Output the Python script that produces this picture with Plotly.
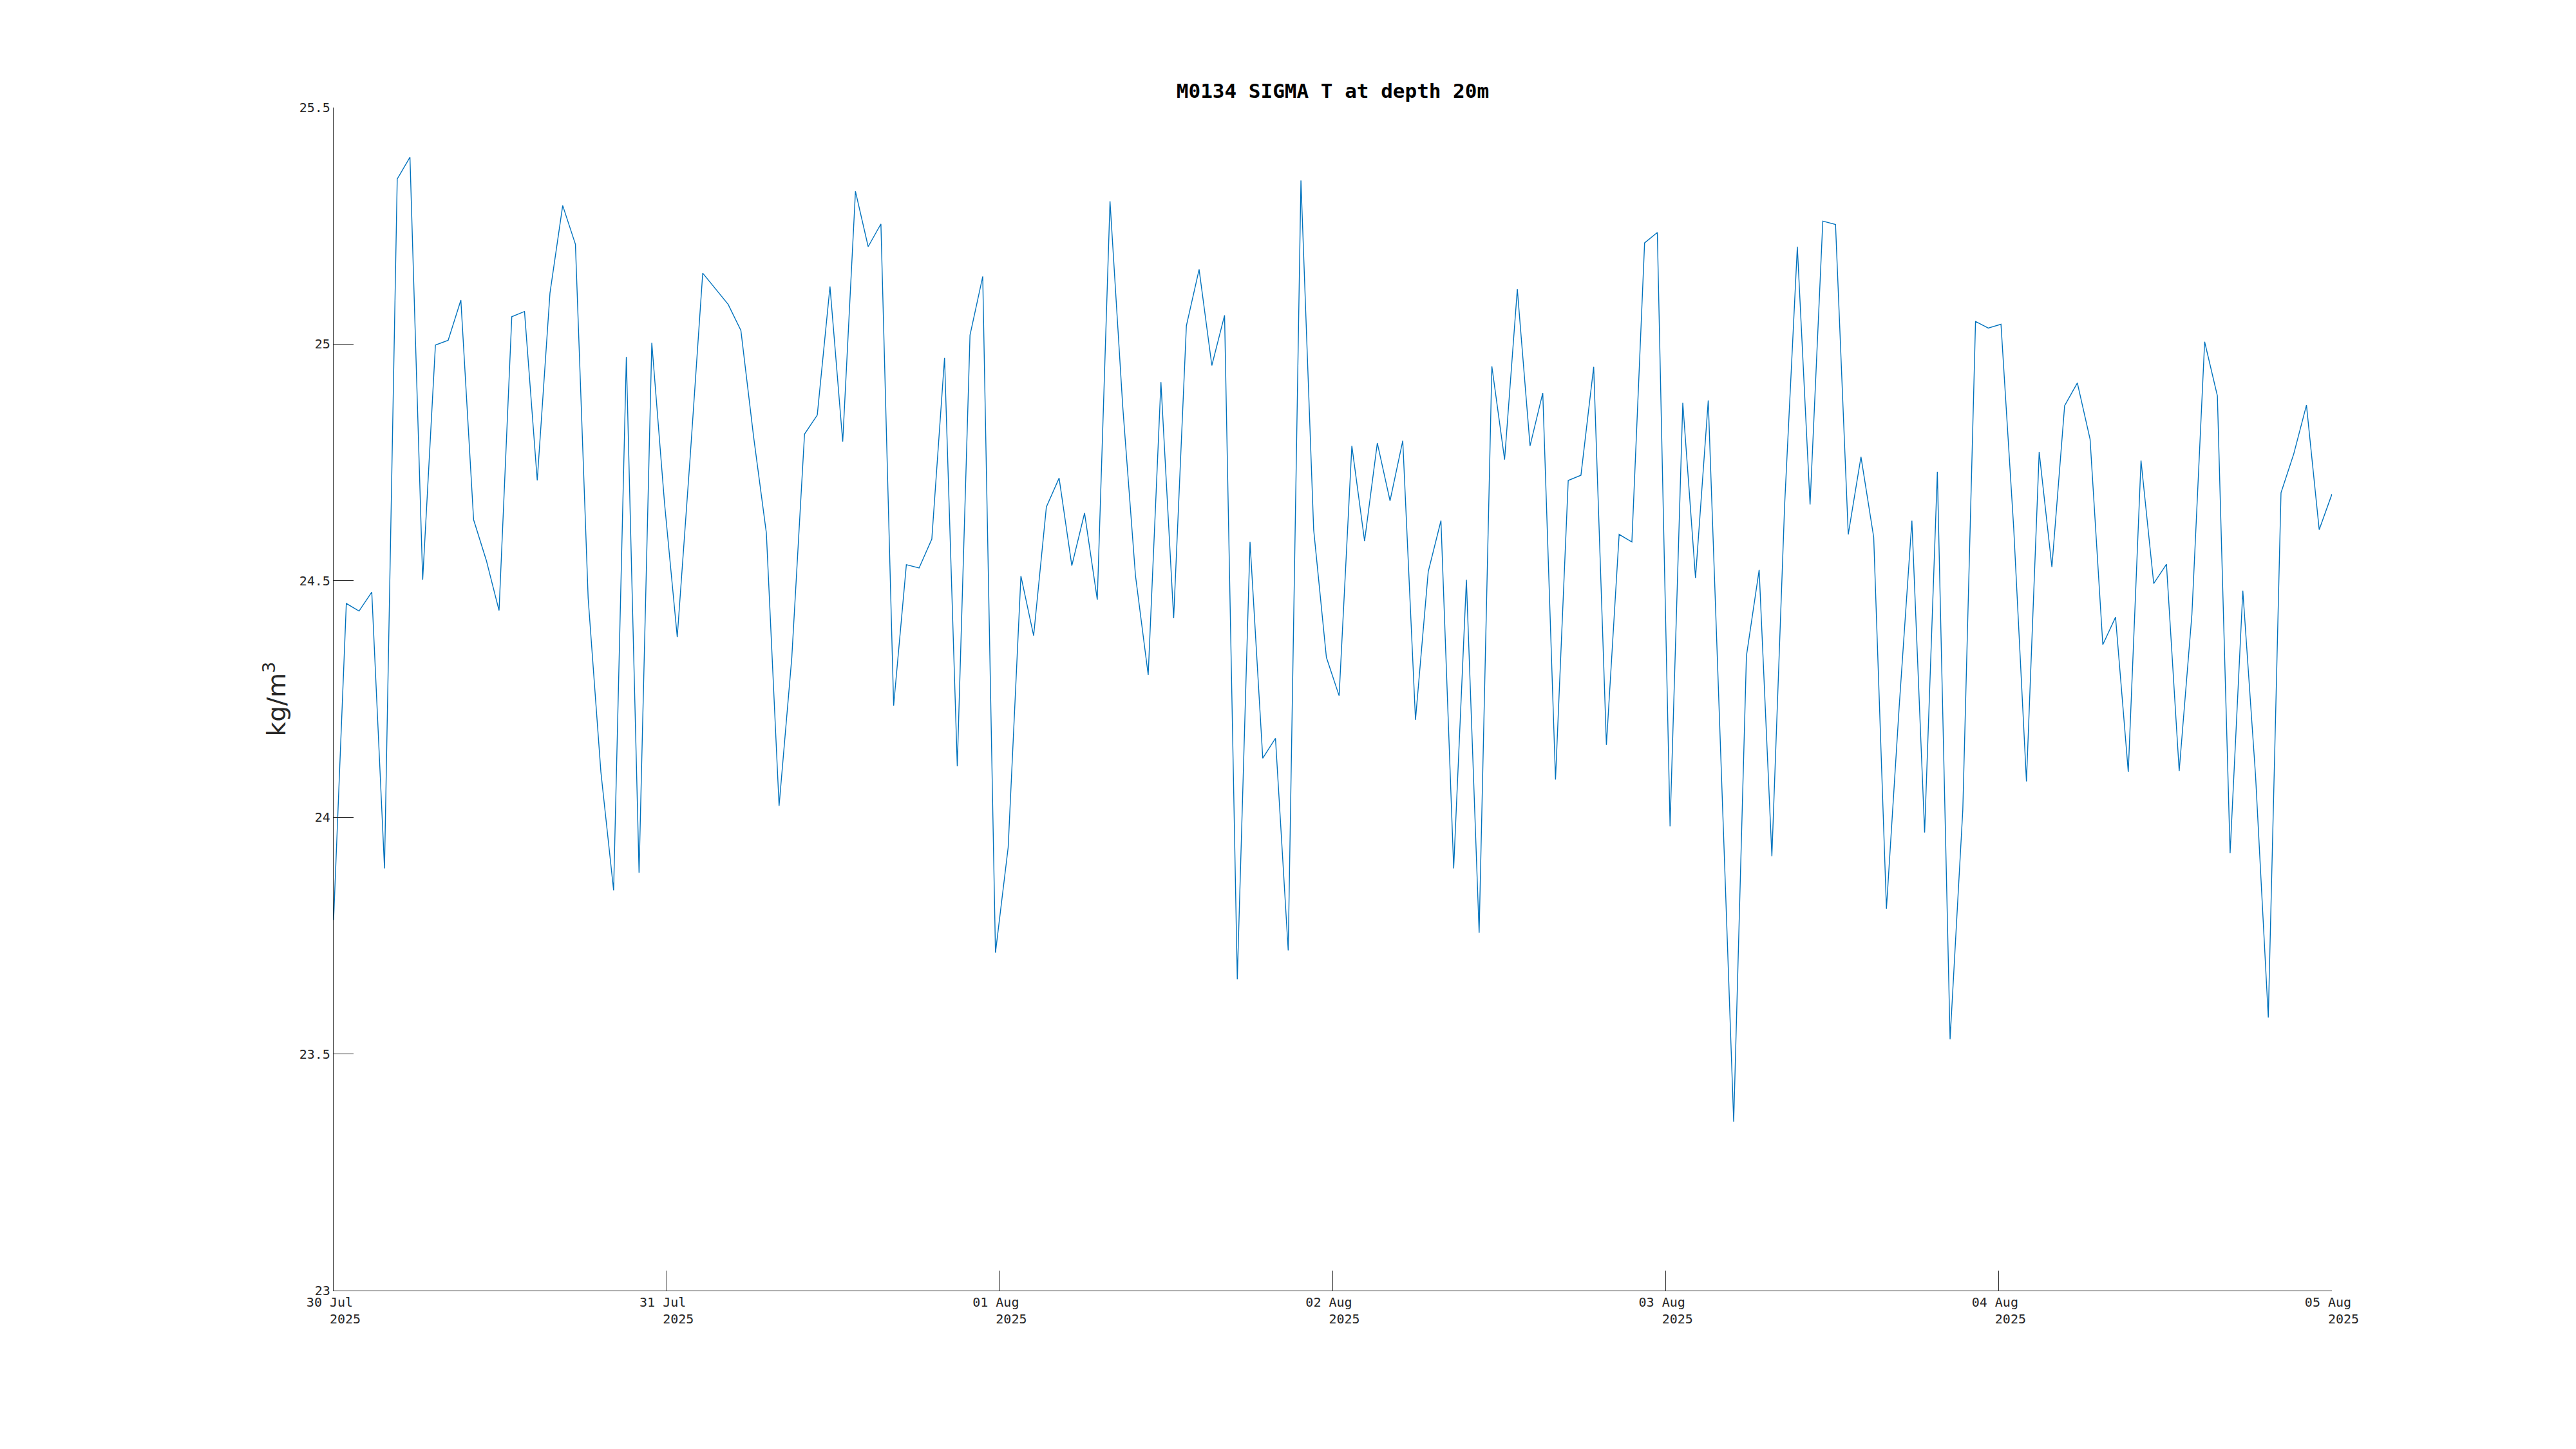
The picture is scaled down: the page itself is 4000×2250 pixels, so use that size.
import pandas as pd
import plotly.graph_objects as go

# Sigma-T readings (kg/m^3), in time order
sigma_part1 = [23.783, 24.452, 24.436, 24.476, 23.892, 25.349, 25.395, 24.502, 24.998, 25.008,
               25.093, 24.629, 24.543, 24.437, 25.058, 25.069, 24.712, 25.108, 25.293, 25.211,
               24.463, 24.096, 23.846, 24.973, 23.883, 25.003]
sigma_part2 = [24.664, 24.381, 24.756, 25.150, 25.117, 25.084, 25.029, 24.804, 24.601, 24.024,
               24.338, 24.810, 24.850, 25.122, 24.794, 25.323, 25.206, 25.254, 24.236, 24.534,
               24.527, 24.588, 24.971, 24.108, 25.019, 25.143]
sigma_part3 = [23.714, 23.937, 24.510, 24.384, 24.656, 24.717, 24.532, 24.643, 24.460, 25.302,
               24.868, 24.511, 24.301, 24.920, 24.421, 25.039, 25.158, 24.955, 25.061, 23.658,
               24.582, 24.125, 24.167, 23.719, 25.346, 24.608]
sigma_part4 = [24.338, 24.257, 24.785, 24.584, 24.791, 24.669, 24.796, 24.206, 24.519, 24.627,
               23.892, 24.502, 23.756, 24.953, 24.756, 25.116, 24.785, 24.897, 24.080, 24.712,
               24.723, 24.952, 24.153, 24.598, 24.582, 25.214]
sigma_part5 = [25.236, 23.981, 24.876, 24.506, 24.881, 24.121, 23.357, 24.341, 24.523, 23.918,
               24.659, 25.206, 24.661, 25.260, 25.253, 24.598, 24.762, 24.592, 23.807, 24.233,
               24.627, 23.968, 24.730, 23.531, 24.016, 25.048]
sigma_part6 = [25.034, 25.042, 24.611, 24.076, 24.772, 24.529, 24.870, 24.918, 24.799, 24.365,
               24.423, 24.096, 24.754, 24.494, 24.535, 24.098, 24.429, 25.005, 24.891, 23.924,
               24.479, 24.088, 23.577, 24.686, 24.768, 24.871, 24.608, 24.683]

start_time = "2025-07-30 00:00"
end_time = "2025-08-05 00:00"

tick_dates = ["2025-07-30", "2025-07-31", "2025-08-01", "2025-08-02",
              "2025-08-03", "2025-08-04", "2025-08-05"]
tick_day_labels = ["30 Jul", "31 Jul", "01 Aug", "02 Aug", "03 Aug", "04 Aug", "05 Aug"]
tick_year_labels = ["2025"] * 7
y_ticks = [23, 23.5, 24, 24.5, 25, 25.5]
y_tick_labels = ["23", "23.5", "24", "24.5", "25", "25.5"]

sigma = sigma_part1 + sigma_part2 + sigma_part3 + sigma_part4 + sigma_part5 + sigma_part6
times = pd.date_range(start_time, end_time, periods=len(sigma))

NB = "\u00a0"
x_tick_text = [f"{d}{NB}<br>{NB*3}{y}" for d, y in zip(tick_day_labels, tick_year_labels)]

AX = "#262626"
MONO = "DejaVu Sans Mono"

fig = go.Figure()
fig.add_trace(go.Scatter(x=times, y=sigma, mode="lines",
                         line=dict(color="#0072BD", width=1.4), showlegend=False))

fig.update_layout(
    width=4000, height=2250, autosize=False,
    paper_bgcolor="white", plot_bgcolor="white",
    margin=dict(l=518, r=379, t=167, b=246, pad=0),
    title=dict(text="<b>M0134 SIGMA T at depth 20m</b>", x=0.5, xref="paper",
               xanchor="center", y=1 - 141 / 2250, yanchor="middle", yref="container",
               font=dict(family=MONO, size=31, color="black")),
    xaxis=dict(range=[start_time, end_time], tickvals=tick_dates, ticktext=x_tick_text,
               ticks="inside", ticklen=31, tickwidth=1.2, tickcolor=AX,
               showline=True, linecolor=AX, linewidth=1.4, mirror=False,
               showgrid=False, zeroline=False,
               tickfont=dict(family=MONO, size=20, color=AX)),
    yaxis=dict(range=[23, 25.5], tickvals=y_ticks, ticktext=y_tick_labels,
               ticks="inside", ticklen=31, tickwidth=1.2, tickcolor=AX,
               showline=True, linecolor=AX, linewidth=1.4, mirror=False,
               showgrid=False, zeroline=False,
               tickfont=dict(family=MONO, size=20, color=AX),
               title=dict(text="kg/m<sup>3</sup>", standoff=8,
                          font=dict(family="DejaVu Sans", size=39, color=AX))),
)

fig.write_html("out.html", config={"displayModeBar": False},
               post_script="document.body.style.margin='0';")
